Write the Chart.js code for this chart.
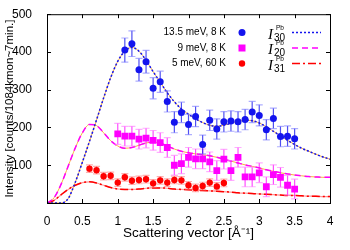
<!DOCTYPE html>
<html>
<head>
<meta charset="utf-8">
<script src="https://cdn.jsdelivr.net/npm/chart.js@4/dist/chart.umd.min.js"></script>
<style>
  html, body { margin: 0; padding: 0; background: #fff; }
  #wrap { width: 350px; height: 250px; }
</style>
</head>
<body>
<div id="wrap"><canvas id="chartPb"></canvas></div>
<script>
const qBlue = [1.1, 1.2, 1.3, 1.4, 1.5, 1.6, 1.7, 1.8, 1.9, 2.0, 2.1, 2.2, 2.3, 2.4, 2.5, 2.6, 2.7, 2.8, 2.9, 3.0, 3.1, 3.2, 3.3, 3.4, 3.5];
const iBlue = [405, 422, 353, 374, 304, 321, 269, 214, 240, 208, 229, 155, 219, 196, 215, 217, 215, 221, 241, 232, 194, 224, 176, 177, 170];
const eBlue = [32, 34, 30, 30, 28, 28, 28, 28, 27, 27, 27, 25, 27, 27, 27, 27, 27, 27, 28, 28, 27, 27, 27, 27, 27];

const qMag = [1.0, 1.1, 1.2, 1.3, 1.4, 1.5, 1.6, 1.7, 1.8, 1.9, 2.0, 2.1, 2.2, 2.3, 2.4, 2.5, 2.6, 2.7, 2.8, 2.9, 3.0, 3.1, 3.2, 3.3, 3.4, 3.5];
const iMag = [183, 177, 177, 169, 172, 166, 160, 147, 100, 104, 121, 117, 117, 109, 86, 116, 86, 121, 69, 69, 80, 43, 75, 68, 47, 37];
const eMag = [28, 26, 26, 26, 26, 26, 26, 26, 26, 26, 26, 26, 26, 26, 26, 26, 26, 26, 26, 26, 26, 26, 26, 26, 26, 26];

const qRed = [0.6, 0.7, 0.8, 0.9, 1.0, 1.1, 1.2, 1.3, 1.4, 1.5, 1.6, 1.7, 1.8, 1.9, 2.0, 2.1, 2.2, 2.3, 2.4, 2.5];
const iRed = [91, 87, 71, 72, 54, 68, 59, 61, 63, 52, 60, 54, 61, 60, 47, 40, 45, 54, 44, 53];
const eRed = [10, 10, 10, 10, 10, 10, 10, 10, 10, 10, 10, 10, 10, 10, 10, 10, 10, 10, 10, 10];

// model curves
const qCurve = [0, 0.1, 0.2, 0.3, 0.4, 0.5, 0.6, 0.7, 0.8, 0.9, 1.0, 1.1, 1.2, 1.3, 1.4, 1.5, 1.6, 1.7, 1.8, 1.9, 2.0,
                2.1, 2.2, 2.3, 2.4, 2.5, 2.6, 2.7, 2.8, 2.9, 3.0, 3.1, 3.2, 3.3, 3.4, 3.5, 3.6, 3.7, 3.8, 3.9, 4.0];
const i30 = [0, 0, 0, 12, 55, 108, 163, 220, 278, 332, 375, 402, 412, 402, 378, 348, 320, 292, 268, 249, 235,
             223, 213, 206, 203, 206, 211, 216, 219, 218, 212, 202, 190, 178, 166, 155, 145, 137, 129, 122, 116];
const i20 = [0, 14, 50, 98, 146, 186, 208, 205, 186, 165, 151, 145, 147, 153, 159, 161, 158, 151, 143, 137, 133,
             130, 128, 125, 121, 116, 111, 106, 101, 97, 93, 88, 84, 80, 77, 74, 72, 70, 69, 68, 68];
const i31 = [0, 7, 22, 36, 47, 54, 56, 53, 47, 41, 37, 36, 36, 37, 39, 40, 40, 39, 37, 36, 35,
             34, 33, 32, 31, 30, 29, 27, 26, 25, 24, 23, 22, 21, 20, 20, 19, 18, 18, 17, 17];

const xTicks = [0, 0.5, 1, 1.5, 2, 2.5, 3, 3.5, 4];
const yTicks = [0, 100, 200, 300, 400, 500];

const legendRows = [
  { text: "13.5 meV, 8 K", color: "#1414ee", style: "circle", sub: "30", dash: [2, 2] },
  { text: "9 meV, 8 K", color: "#ff00ff", style: "rect", sub: "20", dash: [6, 4] },
  { text: "5 meV, 60 K", color: "#ff0000", style: "circle", sub: "31", dash: [8, 3, 2, 3] }
];

const FONT = "'Liberation Sans', Arial, sans-serif";
const pts = (xs, ys) => xs.map((v, k) => ({ x: v, y: ys[k] }));

const errorBars = {
  id: "errorBars",
  beforeDatasetDraw(chart, args) {
    const ds = chart.data.datasets[args.index];
    if (!ds.errors) return;
    const { ctx, scales: { x, y } } = chart;
    ctx.save();
    ds.data.forEach((p, j) => {
      const px = x.getPixelForValue(p.x);
      const top = y.getPixelForValue(p.y + ds.errors[j]);
      const bot = y.getPixelForValue(p.y - ds.errors[j]);
      ctx.lineWidth = 1.2;
      ctx.strokeStyle = ds.barColor;
      ctx.beginPath();
      ctx.moveTo(px, top); ctx.lineTo(px, bot);
      ctx.stroke();
      ctx.strokeStyle = ds.capColor;
      ctx.beginPath();
      ctx.moveTo(px - 3.5, top); ctx.lineTo(px + 3.5, top);
      ctx.moveTo(px - 3.5, bot); ctx.lineTo(px + 3.5, bot);
      ctx.stroke();
    });
    ctx.restore();
  }
};

const frameAndLegend = {
  id: "frameAndLegend",
  afterDraw(chart) {
    const { ctx, chartArea: a, scales: { x, y } } = chart;
    ctx.save();
    ctx.strokeStyle = "#000";
    ctx.lineWidth = 1;
    ctx.strokeRect(a.left + 0.5, a.top + 0.5, a.right - a.left, a.bottom - a.top);
    ctx.beginPath();
    xTicks.forEach(v => {
      const px = Math.round(x.getPixelForValue(v)) + 0.5;
      ctx.moveTo(px, a.bottom); ctx.lineTo(px, a.bottom - 4);
      ctx.moveTo(px, a.top); ctx.lineTo(px, a.top + 4);
    });
    yTicks.forEach(v => {
      const py = Math.round(y.getPixelForValue(v)) + 0.5;
      ctx.moveTo(a.left, py); ctx.lineTo(a.left + 4, py);
      ctx.moveTo(a.right, py); ctx.lineTo(a.right - 4, py);
    });
    ctx.stroke();

    // key
    legendRows.forEach((r, k) => {
      const ry = 32.5 + k * 15.5;
      ctx.fillStyle = "#000";
      ctx.font = "10px " + FONT;
      ctx.textAlign = "right";
      ctx.textBaseline = "middle";
      ctx.fillText(r.text, 226, ry);
      ctx.fillStyle = r.color;
      ctx.beginPath();
      if (r.style === "rect") ctx.rect(238.5, ry - 3.5, 7, 7);
      else ctx.arc(242, ry, k === 0 ? 3.5 : 3.2, 0, Math.PI * 2);
      ctx.fill();

      ctx.fillStyle = "#000";
      ctx.textAlign = "left";
      ctx.textBaseline = "alphabetic";
      ctx.font = "italic 15px 'Liberation Serif', serif";
      ctx.fillText("I", 268, ry + 6);
      ctx.font = "6.5px " + FONT;
      ctx.fillText("Pb", 276, ry - 3);
      ctx.font = "10px " + FONT;
      ctx.fillText(r.sub, 274, ry + 8);

      ctx.strokeStyle = r.color;
      ctx.lineWidth = 1.5;
      ctx.setLineDash(r.dash);
      ctx.beginPath();
      ctx.moveTo(292, ry); ctx.lineTo(321, ry);
      ctx.stroke();
      ctx.setLineDash([]);
    });
    ctx.restore();
  }
};

const curve = (data, color, dash, width, order) => ({
  type: "line", data, borderColor: color, borderDash: dash, borderWidth: width,
  pointRadius: 0, fill: false, tension: 0.4, cubicInterpolationMode: "monotone", order
});

new Chart(document.getElementById("chartPb"), {
  type: "scatter",
  data: {
    datasets: [
      { data: pts(qBlue, iBlue), errors: eBlue, barColor: "rgba(20,20,238,0.75)", capColor: "rgba(120,120,255,0.6)",
        pointStyle: "circle", pointRadius: 3.5, pointBorderWidth: 0, backgroundColor: "#1414ee", order: 0 },
      { data: pts(qMag, iMag), errors: eMag, barColor: "rgba(255,0,255,0.7)", capColor: "rgba(255,120,255,0.6)",
        pointStyle: "rect", pointRadius: 4.8, pointBorderWidth: 0, backgroundColor: "#ff00ff", order: 0 },
      { data: pts(qRed, iRed), errors: eRed, barColor: "rgba(255,0,0,0.7)", capColor: "rgba(255,120,120,0.6)",
        pointStyle: "circle", pointRadius: 3.2, pointBorderWidth: 0, backgroundColor: "#ff0000", order: 0 },
      curve(pts(qCurve, i30), "#1414ee", [2, 2], 1.5, 1),
      curve(pts(qCurve, i20), "#ff00ff", [6, 4], 1.5, 1),
      curve(pts(qCurve, i31), "#ff0000", [8, 3, 2, 3], 1.5, 1),
      curve(pts(qCurve, i30), "#f7b040", [], 1, 2),
      curve(pts(qCurve, i20), "#f7b040", [], 1, 2),
      curve(pts(qCurve, i31), "rgba(255,80,80,0.6)", [], 1.2, 2)
    ]
  },
  options: {
    responsive: true,
    maintainAspectRatio: false,
    animation: false,
    layout: { padding: { top: 13, right: 20, left: 0, bottom: 0 } },
    plugins: { legend: { display: false }, tooltip: { enabled: false } },
    scales: {
      x: {
        type: "linear", min: 0, max: 4,
        afterFit: s => { s.height = 47; },
        afterBuildTicks: s => { s.ticks = xTicks.map(v => ({ value: v })); },
        grid: { display: false }, border: { display: false },
        ticks: { color: "#000", font: { family: FONT, size: 12 }, padding: 3, maxRotation: 0,
                 callback: v => String(+v) },
        title: { display: true, text: "Scattering vector [Å⁻¹]", color: "#000",
                 font: { family: FONT, size: 13.5 }, padding: { top: 0, bottom: 9 } }
      },
      y: {
        type: "linear", min: 0, max: 500,
        afterFit: s => { s.width = 47; },
        afterBuildTicks: s => { s.ticks = yTicks.map(v => ({ value: v })); },
        grid: { display: false }, border: { display: false },
        ticks: { color: "#000", font: { family: FONT, size: 12 }, padding: 7,
                 callback: v => (v === 0 ? "" : String(v)) },
        title: { display: true, text: "Intensity [counts/1084kmon~7min.]", color: "#000",
                 font: { family: FONT, size: 11.5 }, padding: { top: 3, bottom: 0 } }
      }
    }
  },
  plugins: [errorBars, frameAndLegend]
});
</script>
</body>
</html>
